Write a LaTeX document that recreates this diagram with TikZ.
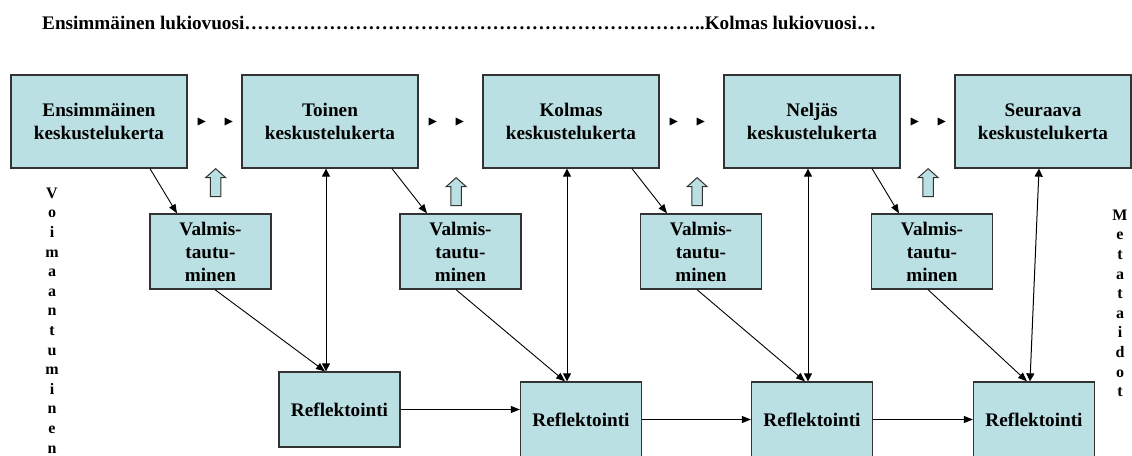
\documentclass[tikz,border=0pt]{standalone}
\usepackage{fontspec}
\setmainfont{Liberation Serif}
\usetikzlibrary{arrows.meta}
\definecolor{boxfill}{HTML}{BBE0E3}
\definecolor{boxline}{HTML}{333333}
% a run of 23 ellipses for the year line
\newcommand{\dotrun}{\foreach \n in {1,...,23}{…\kern0.4pt}}
\begin{document}
\begin{tikzpicture}[x=1pt,y=-1pt,
  font=\bfseries\fontsize{19.2}{23}\selectfont,
  card/.style={draw=boxline, line width=1.3pt, fill=boxfill, align=center, inner sep=0pt},
  talk/.style={card, minimum width=176pt, minimum height=93pt},
  prep/.style={card, minimum width=121pt, minimum height=75pt},
  refl/.style={card, minimum width=121pt, minimum height=75pt},
  link/.style={line width=0.9pt, -{Triangle[length=9pt,width=7pt]}},
  both/.style={line width=1pt, {Triangle[length=8pt,width=8pt]}-{Triangle[length=8pt,width=8pt]}},
  sidetext/.style={font=\bfseries\fontsize{16}{19.6}\selectfont, align=center, inner sep=0pt, anchor=north},
  tri/.pic={\fill (-4,-4) -- (4,0) -- (-4,4) -- cycle;},
  lift/.pic={\draw[fill=boxfill, draw=boxline, line width=1pt] (0,0) -- (10,9) -- (5.3,9) -- (5.3,28) -- (-5.3,28) -- (-5.3,9) -- (-10,9) -- cycle;}
]
\clip (0,0) rectangle (1132,455);

% heading
\node[anchor=base west, inner sep=0pt] (head) at (42,29)
  {Ensimmäinen lukiovuosi\dotrun..Kolmas lukiovuosi…};

% discussion rounds
\node[talk] (K1) at (99,121.5)   {Ensimmäinen\\keskustelukerta};
\node[talk] (K2) at (330,121.5)  {Toinen\\keskustelukerta};
\node[talk] (K3) at (571,121.5)  {Kolmas\\keskustelukerta};
\node[talk] (K4) at (812,121.5)  {Neljäs\\keskustelukerta};
\node[talk] (K5) at (1043,121.5) {Seuraava\\keskustelukerta};

% preparation
\node[prep] (V1) at (210.5,251.5) {Valmis-\\tautu-\\minen};
\node[prep] (V2) at (460.5,251.5) {Valmis-\\tautu-\\minen};
\node[prep] (V3) at (701,251.5)   {Valmis-\\tautu-\\minen};
\node[prep] (V4) at (932,251.5)   {Valmis-\\tautu-\\minen};

% reflection
\node[refl] (R1) at (339.5,409.5) {Reflektointi};
\node[refl] (R2) at (581,419.5)   {Reflektointi};
\node[refl] (R3) at (812,419.5)   {Reflektointi};
\node[refl] (R4) at (1034,419.5)  {Reflektointi};

% side labels
\node[sidetext] (empower) at (52,187.7) {V\\o\\i\\m\\a\\a\\n\\t\\u\\m\\i\\n\\e\\n};
\node[sidetext] (meta) at (1120,209.7) {M\\e\\t\\a\\t\\a\\i\\d\\o\\t};

% round -> preparation
\draw[link] ([xshift=51pt]K1.south) -- ([xshift=-33.5pt]V1.north);
\draw[link] ([xshift=62pt]K2.south) -- ([xshift=-33.5pt]V2.north);
\draw[link] ([xshift=61pt]K3.south) -- ([xshift=-34pt]V3.north);
\draw[link] ([xshift=60pt]K4.south) -- ([xshift=-33pt]V4.north);

% preparation -> reflection
\draw[link] ([xshift=4.5pt]V1.south) -- ([xshift=-14.5pt]R1.north);
\draw[link] ([xshift=-4.5pt]V2.south) -- ([xshift=-16pt]R2.north);
\draw[link] ([xshift=-4pt]V3.south) -- ([xshift=-7pt]R3.north);
\draw[link] ([xshift=-4pt]V4.south) -- ([xshift=-7pt]R4.north);

% reflection <-> next round
\draw[both] ([xshift=-4pt]K2.south) -- ([xshift=-13.5pt]R1.north);
\draw[both] ([xshift=-4pt]K3.south) -- ([xshift=-14pt]R2.north);
\draw[both] ([xshift=-4pt]K4.south) -- ([xshift=-4pt]R3.north);
\draw[both] ([xshift=-4pt]K5.south) -- ([xshift=-4pt]R4.north);

% reflection chain
\draw[link] (R1.east) -- (R1.east -| R2.west);
\draw[link] (R2.east) -- (R3.west);
\draw[link] (R3.east) -- (R4.west);

% small markers between rounds
\foreach \k in {K1,K2,K3,K4} {
  \pic at ([xshift=14pt]\k.east) {tri};
  \pic at ([xshift=41pt]\k.east) {tri};
}

% hollow upward arrows
\pic at ([xshift=28pt]K1.south east) {lift};
\pic at ([xshift=37.5pt,yshift=-9pt]K2.south east) {lift};
\pic at ([xshift=37.5pt,yshift=-9pt]K3.south east) {lift};
\pic at ([xshift=27.5pt]K4.south east) {lift};
\end{tikzpicture}
\end{document}
